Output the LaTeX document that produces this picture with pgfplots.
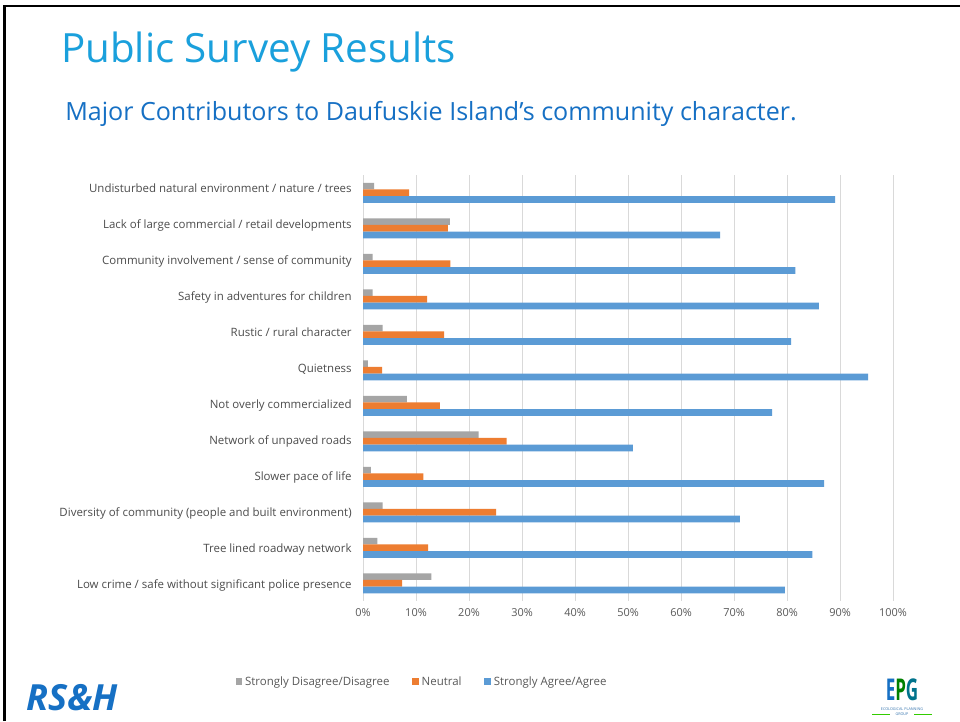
\documentclass[border=0pt]{standalone}
\usepackage{pgfplots}
\pgfplotsset{compat=1.18}
\usepackage{fontspec}
\setmainfont{Open Sans}
\definecolor{sdis}{HTML}{A5A5A5}
\definecolor{neut}{HTML}{ED7D31}
\definecolor{sagr}{HTML}{5B9BD5}
\definecolor{titleblue}{HTML}{1AA0DC}
\definecolor{subblue}{HTML}{1670C4}
\definecolor{txtgray}{HTML}{595959}
\definecolor{gridgray}{HTML}{D9D9D9}

% values in percent, row 0 = top category
\pgfplotstableread{
idx disagree neutral agree
0   2.1  8.7  89.1
1   16.4 16.0 67.4
2   1.8  16.5 81.6
3   1.8  12.1 86.0
4   3.7  15.3 80.8
5   0.9  3.6  95.3
6   8.3  14.5 77.2
7   21.8 27.1 50.9
8   1.5  11.4 87.0
9   3.7  25.1 71.1
10  2.7  12.3 84.8
11  12.9 7.4  79.6
}\survey

\begin{document}
\begin{tikzpicture}[x=0.75pt,y=0.75pt]
\useasboundingbox (0,0) rectangle (960,721);
\fill[white] (0,0) rectangle (960,721);
% slide frame
\draw[black,line width=2pt] (4.5,0) -- (4.5,715) -- (960,715);

\node[anchor=base west,inner sep=0pt,text=titleblue,font=\fontsize{30.2}{34}\selectfont] at (61,721-63) {Public Survey Results};
\node[anchor=base west,inner sep=0pt,text=subblue,font=\fontsize{18.8}{22}\selectfont] at (65,721-121) {Major Contributors to Daufuskie Island's community character.};

\begin{axis}[
  at={(272.25pt,90pt)}, anchor=south west,
  scale only axis,
  width=397.5pt, height=319.5pt,
  xbar=0pt, bar width=5pt,
  xmin=0, xmax=100,
  ymin=-0.5, ymax=11.5,
  y dir=reverse,
  axis line style={draw=none},
  major tick length=0pt,
  xtick={0,10,...,100},
  xticklabel={\pgfmathprintnumber{\tick}\%},
  xmajorgrids, grid style={gridgray,line width=0.75pt},
  ytick={0,...,11},
  yticklabels={Undisturbed natural environment / nature / trees,
    Lack of large commercial / retail developments,
    Community involvement / sense of community,
    Safety in adventures for children,
    Rustic / rural character,
    Quietness,
    Not overly commercialized,
    Network of unpaved roads,
    Slower pace of life,
    Diversity of community (people and built environment),
    Tree lined roadway network,
    Low crime / safe without significant police presence},
  yticklabel style={font=\fontsize{8.6}{10}\selectfont, text=txtgray!85!black,
    text height=6.2pt, text depth=1.8pt, xshift=-5pt, yshift={(2.1-0.341*\ticknum)*1pt}},
  xticklabel style={font=\fontsize{8.2}{10}\selectfont, text=txtgray, yshift=-2pt},
  /pgf/number format/assume math mode=true,
  legend style={at={(0.112,-0.190)}, anchor=center, draw=none, fill=none,
    legend columns=3, font=\fontsize{8.6}{10}\selectfont, text=txtgray,
    /tikz/every even column/.append style={column sep=15pt}},
  legend image code/.code={\fill[#1] (0pt,-2.6pt) rectangle (5.2pt,2.6pt);},
]
\addplot[fill=sdis, draw=none, bar shift=5pt] table[x=disagree, y=idx] {\survey};
\addplot[fill=neut, draw=none, bar shift=0pt] table[x=neutral, y=idx] {\survey};
\addplot[fill=sagr, draw=none, bar shift=-5pt] table[x=agree, y=idx] {\survey};
\legend{Strongly Disagree/Disagree, Neutral, Strongly Agree/Agree}
\end{axis}

% logos
\node[anchor=base west,inner sep=0pt,text=subblue,font=\fontsize{27}{28}\selectfont\bfseries\itshape] at (26,721-710) {RS\&H};
\node[anchor=south,inner sep=0pt,xscale=0.85,yscale=1.5,font=\fontsize{15}{15}\selectfont\bfseries] at (902,721-701) {\textcolor{subblue}{E}\textcolor{green!50!black}{P}\textcolor{green!45!blue}{G}};
\node[anchor=north,inner sep=0pt,align=center,text=subblue!70!gray,font=\fontsize{2.8}{3.2}\selectfont] at (902,721-708) {ECOLOGICAL PLANNING\\GROUP};
\fill[green!60!olive] (872,721-713.5) rectangle (890,721-715);
\fill[green!60!olive] (914,721-713.5) rectangle (932,721-715);
\end{tikzpicture}
\end{document}
